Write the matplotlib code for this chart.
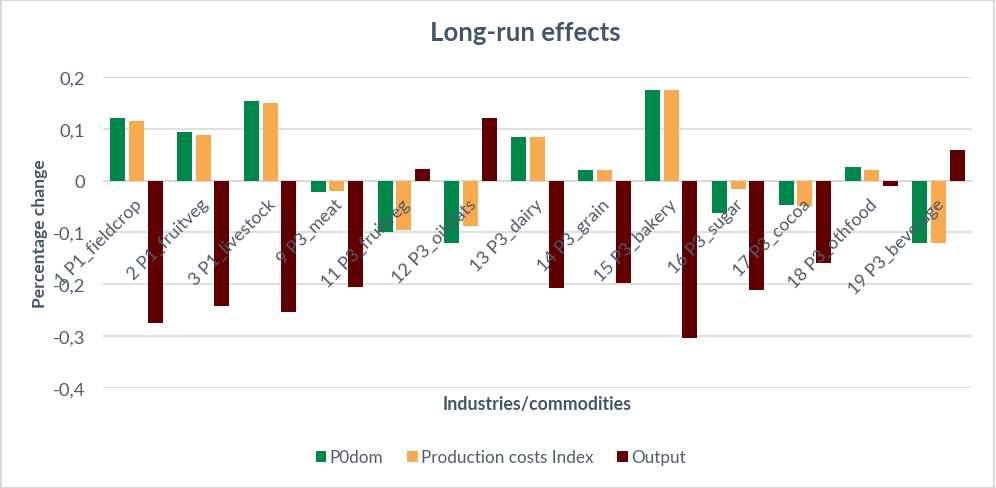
import matplotlib
matplotlib.use("Agg")
import matplotlib.pyplot as plt
import numpy as np
from matplotlib.patches import Rectangle, Patch
from matplotlib.ticker import FuncFormatter

categories = ["1 P1_fieldcrop", "2 P1_fruitveg", "3 P1_livestock", "9 P3_meat",
              "11 P3_fruitveg", "12 P3_oilsfats", "13 P3_dairy", "14 P3_grain",
              "15 P3_bakery", "16 P3_sugar", "17 P3_cocoa", "18 P3_othfood",
              "19 P3_beverage"]
p0dom = [0.120, 0.093, 0.153, -0.021, -0.100, -0.121, 0.085, 0.021, 0.174,
         -0.062, -0.046, 0.027, -0.120]
prod_costs = [0.116, 0.089, 0.149, -0.019, -0.095, -0.088, 0.085, 0.021, 0.174,
              -0.017, -0.049, 0.021, -0.120]
output = [-0.274, -0.241, -0.253, -0.205, 0.023, 0.120, -0.207, -0.197, -0.303,
          -0.210, -0.158, -0.010, 0.060]
series_names = ["P0dom", "Production costs Index", "Output"]
colors = ["#00884A", "#F7AA50", "#600000"]
yticks = [-0.4, -0.3, -0.2, -0.1, 0, 0.1, 0.2]

plt.rcParams['font.family'] = ['Lato', 'DejaVu Sans']
text_col = "#44546A"
tick_col = "#505B6C"

fig = plt.figure(figsize=(9.96, 4.89), dpi=100)
ax = fig.add_axes([0.1034, 0.2045, 0.8725, 0.636])

x = np.arange(len(categories))
w = 0.225
off = 0.28
for i, (vals, c) in enumerate(zip([p0dom, prod_costs, output], colors)):
    ax.bar(x + (i - 1) * off, vals, width=w, color=c, zorder=3, label=series_names[i])

ax.set_xlim(-0.5, len(categories) - 0.5)
ax.set_ylim(-0.4, 0.2)
ax.set_yticks(yticks)
ax.yaxis.set_major_formatter(FuncFormatter(lambda v, p: "0" if abs(v) < 1e-9 else f"{v:.1f}".replace(".", ",")))
ax.grid(axis='y', color="#D9D9D9", linewidth=1.2, zorder=0)
for s in ['top', 'right', 'left']:
    ax.spines[s].set_visible(False)
ax.spines['bottom'].set_position(('data', 0))
ax.spines['bottom'].set_color("#D9D9D9")
ax.spines['bottom'].set_linewidth(1.2)
ax.spines['bottom'].set_zorder(2)
ax.tick_params(axis='y', length=0, labelsize=13.3, labelcolor=tick_col, pad=13)
ax.tick_params(axis='x', length=0)
ax.set_xticks(x)
ax.set_xticklabels([])
for xi, lab in zip(x, categories):
    ax.annotate(lab, xy=(xi, 0), xycoords='data', xytext=(2, -15), textcoords='offset points',
                rotation=45, rotation_mode='anchor', ha='right', va='center',
                fontsize=13, color=tick_col, zorder=4)

fig.text(0.527, 0.932, "Long-run effects", ha='center', va='center', fontsize=18.5,
         fontweight='bold', color=text_col)
fig.text(0.040, 0.522, "Percentage change", ha='center', va='center', rotation=90,
         fontsize=12.6, fontweight='bold', color=text_col)
fig.text(0.539, 0.173, "Industries/commodities", ha='center', va='center',
         fontsize=12.8, fontweight='bold', color=text_col)

handles = [Patch(facecolor=c, edgecolor='none') for c in colors]
fig.legend(handles, series_names, loc='center', bbox_to_anchor=(0.503, 0.063), ncol=3,
           frameon=False, fontsize=12.3, handlelength=0.6, handleheight=0.6,
           handletextpad=0.2, columnspacing=1.4, labelcolor=tick_col)

fig.patches.append(Rectangle((0.001, 0.001), 0.997, 0.997, transform=fig.transFigure,
                             fill=False, edgecolor="#D9D9D9", linewidth=1.5))

fig.savefig("out.png", dpi=100)
